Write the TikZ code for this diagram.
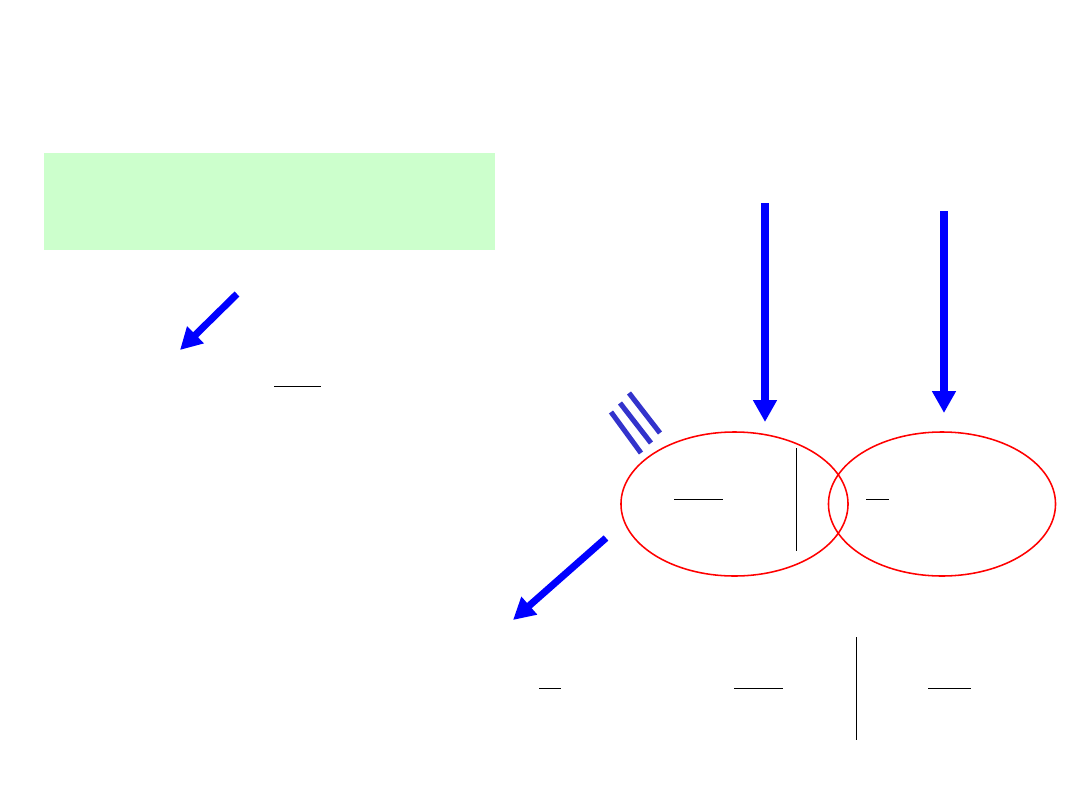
\documentclass[tikz,border=0pt]{standalone}
\usepackage{tikz}
\usetikzlibrary{shapes.geometric,arrows.meta,positioning}
\definecolor{boxgreen}{RGB}{204,255,204}
\definecolor{hatchblue}{RGB}{51,51,204}

\begin{document}
\begin{tikzpicture}[
x=0.025cm, y=-0.025cm,
bigarrow/.style={
  draw=blue,
  line width=5pt,
  -{Triangle[length=15.5pt,width=16pt]}
},
ring/.style={
  draw=red,
  ellipse,
  line width=1.1pt,
  minimum width=5.675cm,
  minimum height=3.6cm,
  inner sep=0pt
},
bar/.style={
  line width=0.7pt
},
hatch/.style={
  draw=hatchblue,
  line width=3.6pt
}
]
\useasboundingbox (0,0) rectangle (1080,810);

% shaded box
\node[fill=boxgreen,anchor=north west,minimum width=11.275cm,
  minimum height=2.425cm,inner sep=0pt] (hint) at (44,153) {};

% the two rings
\node[ring] (left) at (734.5,504) {};
\node[ring] (right) at (942,504) {};

% arrow ends
\coordinate (a1s) at (237,294);
\coordinate (a1e) at (180,350);
\coordinate (a2s) at (765,203);
\coordinate (a2e) at (765,422);
\coordinate (a3s) at (944,211);
\coordinate (a3e) at (944,413);
\coordinate (a4s) at (606,538);
\coordinate (a4e) at (513,620);

\draw[bigarrow] (a1s) -- (a1e);
\draw[bigarrow] (a2s) -- (a2e);
\draw[bigarrow] (a3s) -- (a3e);
\draw[bigarrow] (a4s) -- (a4e);

% three strokes
\draw[hatch] (611,412) -- (641,453);
\draw[hatch] (620,403) -- (651,443);
\draw[hatch] (629,393) -- (660,433);

% bars
\draw[bar] (274,386) -- (321,386);
\draw[bar] (674,499) -- (723,499);
\draw[bar] (796,448) -- (796,551);
\draw[bar] (866,499) -- (889,499);
\draw[bar] (539,688) -- (561,688);
\draw[bar] (734,688) -- (783,688);
\draw[bar] (856,637) -- (856,740);
\draw[bar] (928,688) -- (971,688);
\end{tikzpicture}
\end{document}
